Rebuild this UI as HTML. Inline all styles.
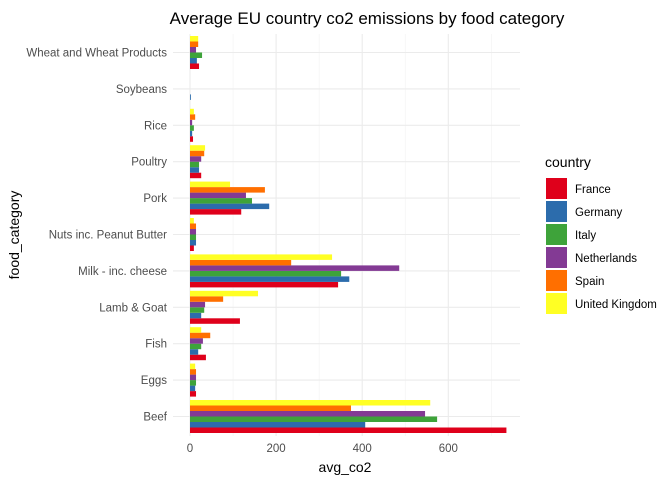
<!DOCTYPE html>
<html><head><meta charset="utf-8"><style>
body{margin:0;background:#fff;font-family:"Liberation Sans",Arial,sans-serif}
svg text{font-family:"Liberation Sans",Arial,sans-serif}
</style></head><body>
<svg id="c" width="672" height="480" xmlns="http://www.w3.org/2000/svg">
<rect width="672" height="480" fill="#fff"/>
<text x="367" y="24" text-anchor="middle" font-size="17" fill="#000">Average EU country co2 emissions by food category</text>
<g id="grid"></g><g id="bars"></g><g id="ylab"></g><g id="xlab"></g>
<text x="345" y="472" text-anchor="middle" font-size="14" fill="#000">avg_co2</text>
<text transform="translate(19,235) rotate(-90)" text-anchor="middle" font-size="14" fill="#000">food_category</text>
<text x="545" y="167" font-size="14" fill="#000">country</text>
<g id="legend"></g>
</svg>
<script>
const categories=["Beef","Eggs","Fish","Lamb & Goat","Milk - inc. cheese","Nuts inc. Peanut Butter","Pork","Poultry","Rice","Soybeans","Wheat and Wheat Products"];
const countries=["France","Germany","Italy","Netherlands","Spain","United Kingdom"];
const colors=["#DF001B","#2C6CAC","#3EA33A","#833A94","#FF6F00","#FFFF24"];
const france=[735,14,37,116,344,9,119,26,7,0,21];
const germany=[407,12,19,26,370,14,184,21,5,2,16];
const italy=[574,14,26,33,351,14,144,21,9,0,28];
const netherlands=[546,14,30,35,486,14,130,26,5,0,14];
const spain=[374,14,47,77,235,14,174,33,12,0,19];
const uk=[558,12,26,158,330,9,93,35,9,0,19];
const xticks=[0,200,400,600];
const series=[france,germany,italy,netherlands,spain,uk];
const NS="http://www.w3.org/2000/svg";
const x=v=>190+v*0.4305;
const yc=i=>416.5-i*36.4;
const bh=5.5;
function mk(t,a,p){const e=document.createElementNS(NS,t);for(const k in a)e.setAttribute(k,a[k]);p.appendChild(e);return e;}
const grid=document.getElementById('grid');
[100,300,500,700].forEach(v=>{const l=mk('line',{x1:x(v),x2:x(v),y1:34,y2:436,stroke:'#f2f2f2','stroke-width':0.6},grid);});
xticks.forEach(v=>{const l=mk('line',{x1:x(v),x2:x(v),y1:34,y2:436,stroke:'#ebebeb','stroke-width':1.1},grid);
const t=mk('text',{x:x(v),y:452,'text-anchor':'middle','font-size':11.5,fill:'#4d4d4d'},document.getElementById('xlab'));t.textContent=v;});
categories.forEach((c,i)=>{const l=mk('line',{x1:173,x2:520,y1:yc(i),y2:yc(i),stroke:'#ebebeb','stroke-width':1.1},grid);
const t=mk('text',{x:167,y:yc(i)+4,'text-anchor':'end','font-size':11.5,fill:'#4d4d4d'},document.getElementById('ylab'));t.textContent=c;});
const bars=document.getElementById('bars');
series.forEach((s,k)=>{s.forEach((v,i)=>{const top=yc(i)+16.5-(k+1)*bh;const r=mk('rect',{x:x(0),y:top,width:Math.max(0,x(v)-x(0)),height:bh,fill:colors[k]},bars);

});});
const lg=document.getElementById('legend');
countries.forEach((c,k)=>{const y=178+k*23;const r=mk('rect',{x:546,y:y,width:21,height:21,fill:colors[k]},lg);


const t=mk('text',{x:575,y:y+15,'font-size':11.5,fill:'#000'},lg);t.textContent=c;

});
</script>
</body></html>
